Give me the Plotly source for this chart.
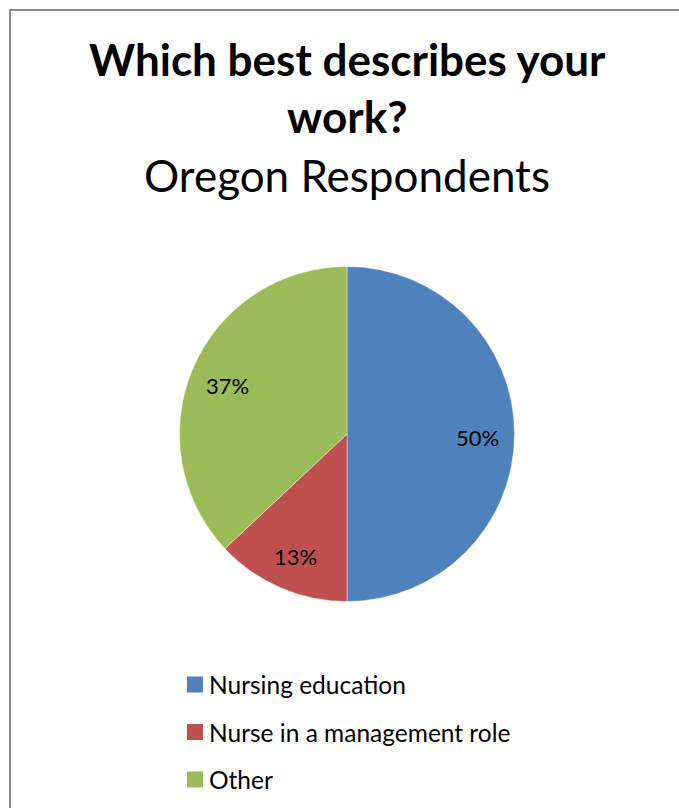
import math
import plotly.graph_objects as go

# Survey breakdown
categories = ["Nursing education", "Nurse in a management role", "Other"]
shares = [50, 13, 37]
colors = ["#4F81BD", "#C0504D", "#9BBB59"]

W, H = 679, 808
FONT = "Lato"

# Pie geometry (pixels)
CX, CY, R = 347, 434, 167.5

fig = go.Figure()

fig.add_trace(go.Pie(
    labels=categories,
    values=shares,
    sort=False,
    direction="clockwise",
    rotation=0,
    marker=dict(colors=colors, line=dict(color="rgba(255,255,255,0.7)", width=0.6)),
    textinfo="none",
    showlegend=False,
    hoverinfo="label+percent",
    domain=dict(x=[(CX - R) / W, (CX + R) / W],
                y=[(H - CY - R) / H, (H - CY + R) / H]),
))

# Percentage labels placed along each slice's mid-angle
total = sum(shares)
cum = 0
for v in shares:
    theta = 2 * math.pi * (cum + v / 2) / total
    cum += v
    px = CX + 0.78 * R * math.sin(theta)
    py = CY + 3 - 0.78 * R * math.cos(theta)
    fig.add_annotation(text=f"{round(100 * v / total)}%", x=px / W, y=1 - py / H,
                       xref="paper", yref="paper", xanchor="center", yanchor="middle",
                       showarrow=False, font=dict(family=FONT, size=22, color="#000000"))

# Title block
fig.add_annotation(text="<b>Which best describes your</b>", x=347 / W, y=1 - 31 / H,
                   xref="paper", yref="paper", yanchor="top", showarrow=False,
                   font=dict(family=FONT, size=44, color="#000000"))
fig.add_annotation(text="<b>work?</b>", x=347 / W, y=1 - 88 / H,
                   xref="paper", yref="paper", yanchor="top", showarrow=False,
                   font=dict(family=FONT, size=44, color="#000000"))
fig.add_annotation(text="Oregon Respondents", x=347 / W, y=1 - 147 / H,
                   xref="paper", yref="paper", yanchor="top", showarrow=False,
                   font=dict(family=FONT, size=44, color="#000000"))

# Legend: colour swatch + label per category
row_y = [684.5, 732, 779.5]
for cat, col, ry in zip(categories, colors, row_y):
    fig.add_shape(type="rect", xref="paper", yref="paper",
                  x0=187 / W, x1=203 / W, y0=1 - (ry - 8) / H, y1=1 - (ry + 8) / H,
                  fillcolor=col, line=dict(width=0))
    fig.add_annotation(text=cat, x=207 / W, y=1 - ry / H, xref="paper", yref="paper",
                       xanchor="left", yanchor="middle", showarrow=False,
                       font=dict(family=FONT, size=24.5, color="#000000"))

# Chart-area border
fig.add_shape(type="rect", xref="paper", yref="paper",
              x0=10 / W, x1=1.05, y0=1 - 10 / H, y1=-0.05,
              line=dict(color="#898989", width=2), fillcolor="rgba(0,0,0,0)")

fig.update_layout(
    width=W, height=H,
    margin=dict(l=0, r=0, t=0, b=0),
    paper_bgcolor="#FFFFFF",
    plot_bgcolor="#FFFFFF",
    showlegend=False,
)

fig.write_html("out.html")
